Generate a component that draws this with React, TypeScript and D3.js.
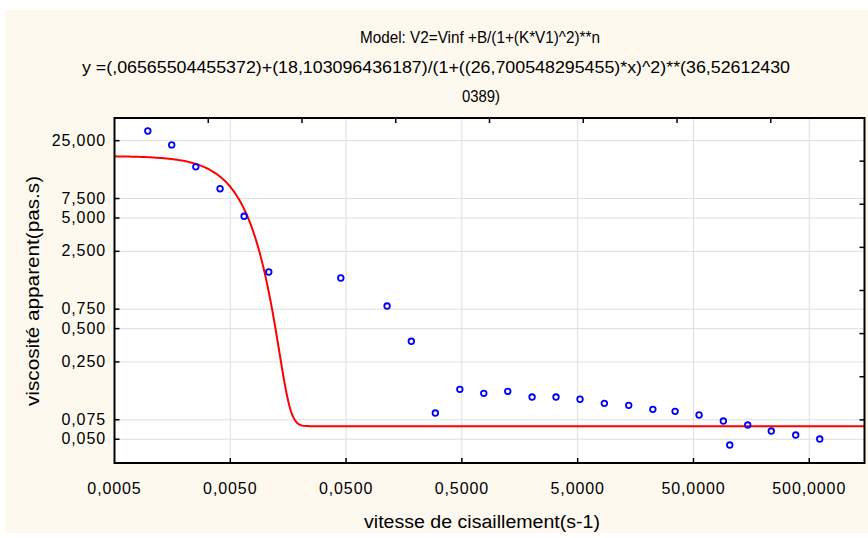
import React from "react";
import * as d3 from "d3";

// ---- data ----
const shearRate: number[] = [
  0.00097, 0.00156, 0.00252, 0.00408, 0.00658, 0.01075, 0.045, 0.113, 0.183,
  0.295, 0.48, 0.773, 1.245, 2.02, 3.25, 5.24, 8.5, 13.8, 22.3, 34.7, 55.9,
  90.6, 102.9, 147.2, 235, 382, 616,
];
const viscosity: number[] = [
  30.6, 22.9, 14.5, 9.2, 5.18, 1.625, 1.434, 0.8, 0.384, 0.0863, 0.1413, 0.13,
  0.1355, 0.1204, 0.1204, 0.115, 0.1056, 0.1013, 0.0932, 0.0894, 0.0828, 0.073,
  0.0443, 0.0672, 0.0593, 0.0546, 0.0502,
];
// fitted model parameters shown in the title: V2 = Vinf + B/(1+(K*V1)^2)**n
const modelParams: number[] = [0.06565504455372, 18.103096436187, 26.700548295455, 36.526124300389];

const xTicks: number[] = [0.0005, 0.005, 0.05, 0.5, 5, 50, 500];
const xTickLabels: string[] = ["0,0005", "0,0050", "0,0500", "0,5000", "5,0000", "50,0000", "500,0000"];
const yTicks: number[] = [25, 7.5, 5, 2.5, 0.75, 0.5, 0.25, 0.075, 0.05];
const yTickLabels: string[] = ["25,000", "7,500", "5,000", "2,500", "0,750", "0,500", "0,250", "0,075", "0,050"];

const titleLines: string[] = [
  "Model:  V2=Vinf +B/(1+(K*V1)^2)**n",
  "y =(,06565504455372)+(18,103096436187)/(1+((26,700548295455)*x)^2)**(36,52612430",
  "0389)",
];
const xTitle = "vitesse de cisaillement(s-1)";
const yTitle = "viscosité apparent(pas.s)";

const W = 868;
const H = 538;
const L = 114.5, R = 864.5, T = 118, B = 463;

export default function App() {
  const x = d3.scaleLog().domain([0.0005, 1500]).range([L, R]);
  const y = d3.scaleLog().domain([0.0305, 40.1]).range([B, T]);
  const [vinf, bb, kk, nn] = modelParams;
  const model = (v: number) => vinf + bb / Math.pow(1 + Math.pow(kk * v, 2), nn);
  const samples = d3.range(0, 601).map((i) => 0.0005 * Math.pow(3000000, i / 600));
  const line = d3
    .line<number>()
    .x((d) => x(d))
    .y((d) => y(model(d)));
  const secX = d3.scaleLinear().domain([0, 8]).range([L, R]);
  const secY = d3.scaleLinear().domain([0, 8]).range([B, T]);
  const tickFont = "'Liberation Sans', Arial, sans-serif";
  const labelFont = "'Liberation Sans', Arial, sans-serif";
  return (
    <div style={{ position: "absolute", left: 0, top: 0 }}>
      <svg width={W} height={H} style={{ display: "block" }}>
        <rect x={0} y={0} width={W} height={H} fill="#ffffff" />
        <rect x={5} y={10} width={W - 5} height={523} fill="#fdf9ef" />
        <defs>
          <clipPath id="plotclip">
            <rect x={L} y={T} width={R - L} height={B - T} />
          </clipPath>
        </defs>
        <rect x={L} y={T} width={R - L} height={B - T} fill="#ffffff" />
        {/* grid */}
        {xTicks.slice(1).map((t) => (
          <line key={"gx" + t} x1={x(t)} x2={x(t)} y1={T} y2={B} stroke="#dedede" strokeWidth={1} />
        ))}
        {yTicks.map((t) => (
          <line key={"gy" + t} x1={L} x2={R} y1={y(t)} y2={y(t)} stroke="#dedede" strokeWidth={1} />
        ))}
        {/* model curve */}
        <path d={line(samples) || ""} fill="none" stroke="#ff0000" strokeWidth={2} clipPath="url(#plotclip)" />
        {/* points */}
        {shearRate.map((v, i) => (
          <circle key={"p" + i} cx={x(v)} cy={y(viscosity[i])} r={2.8} fill="none" stroke="#0000ff" strokeWidth={1.8} />
        ))}
        {/* ticks */}
        {xTicks.slice(1).map((t) => (
          <line key={"tx" + t} x1={x(t)} x2={x(t)} y1={B} y2={B - 5} stroke="#000" strokeWidth={1.5} />
        ))}
        {yTicks.map((t) => (
          <line key={"ty" + t} x1={L} x2={L + 5} y1={y(t)} y2={y(t)} stroke="#000" strokeWidth={1.5} />
        ))}
        {d3.range(1, 8).map((k) => (
          <line key={"tt" + k} x1={secX(k)} x2={secX(k)} y1={T} y2={T + 5} stroke="#000" strokeWidth={1.5} />
        ))}
        {d3.range(1, 8).map((k) => (
          <line key={"tr" + k} x1={R} x2={R - 5} y1={secY(k)} y2={secY(k)} stroke="#000" strokeWidth={1.5} />
        ))}
        {/* frame */}
        <rect x={L} y={T} width={R - L} height={B - T} fill="none" stroke="#000" strokeWidth={2} />
        {/* tick labels */}
        {xTicks.map((t, i) => (
          <text key={"lx" + t} x={x(t)} y={494} textAnchor="middle" fontFamily={tickFont} fontSize={16} letterSpacing={0.9} fill="#000">
            {xTickLabels[i]}
          </text>
        ))}
        {yTicks.map((t, i) => (
          <text key={"ly" + t} x={106} y={y(t) + 5} textAnchor="end" fontFamily={tickFont} fontSize={16} letterSpacing={0.9} fill="#000">
            {yTickLabels[i]}
          </text>
        ))}
        {/* titles */}
        <text x={480} y={43} textAnchor="middle" fontFamily={labelFont} fontSize={16} textLength={240} lengthAdjust="spacingAndGlyphs">
          {titleLines[0]}
        </text>
        <text x={82} y={73} fontFamily={labelFont} fontSize={16} textLength={708} lengthAdjust="spacingAndGlyphs">
          {titleLines[1]}
        </text>
        <text x={481} y={102} textAnchor="middle" fontFamily={labelFont} fontSize={16} textLength={38} lengthAdjust="spacingAndGlyphs">
          {titleLines[2]}
        </text>
        <text x={482} y={528} textAnchor="middle" fontFamily={labelFont} fontSize={18} textLength={236} lengthAdjust="spacingAndGlyphs">
          {xTitle}
        </text>
        <text
          transform="translate(39,291) rotate(-90)"
          textAnchor="middle"
          fontFamily={labelFont}
          fontSize={18}
          textLength={230}
          lengthAdjust="spacingAndGlyphs"
        >
          {yTitle}
        </text>
      </svg>
    </div>
  );
}
